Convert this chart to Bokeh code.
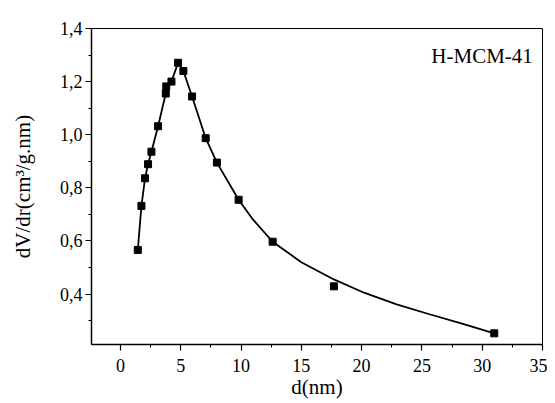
from bokeh.plotting import figure
from bokeh.models import FixedTicker, Range1d, Label
from bokeh.embed import file_html
from bokeh.resources import INLINE

# Measured points (pore diameter d in nm, dV/dr)
d_pts = [1.44, 1.74, 2.04, 2.29, 2.57, 3.12, 3.76, 3.80, 4.23, 4.78, 5.22, 5.94,
         7.07, 8.00, 9.80, 12.62, 17.70, 31.00]
v_pts = [0.566, 0.732, 0.836, 0.889, 0.936, 1.032, 1.155, 1.182, 1.200, 1.271,
         1.240, 1.144, 0.987, 0.895, 0.755, 0.597, 0.429, 0.252]

# Fitted curve
curve_d = [1.44, 1.74, 2.04, 2.29, 2.57, 3.12, 3.76, 3.80, 4.23, 4.78, 5.22, 5.94,
           7.07, 8.00, 9.80, 11.0, 12.62, 15.0, 17.7, 20.2, 22.9, 25.7, 28.4, 31.0]
curve_v = [0.566, 0.732, 0.836, 0.889, 0.936, 1.032, 1.155, 1.182, 1.200, 1.271,
           1.240, 1.144, 0.987, 0.895, 0.755, 0.680, 0.597, 0.520, 0.455, 0.405,
           0.361, 0.323, 0.288, 0.252]

x_ticks = [0, 5, 10, 15, 20, 25, 30, 35]
x_minor = [2.5, 7.5, 12.5, 17.5, 22.5, 27.5, 32.5]
y_ticks = [0.4, 0.6, 0.8, 1.0, 1.2, 1.4]
y_tick_labels = ["0,4", "0,6", "0,8", "1,0", "1,2", "1,4"]
y_minor = [0.3, 0.5, 0.7, 0.9, 1.1, 1.3]

FONT = "Liberation Serif"

p = figure(width=547, height=403, output_backend="svg", toolbar_location=None,
           x_range=Range1d(-2.4, 35), y_range=Range1d(0.21, 1.4),
           min_border_left=91, min_border_top=28, min_border_right=5,
           min_border_bottom=59)
p.background_fill_color = "white"
p.border_fill_color = "white"
p.grid.visible = False
p.outline_line_color = "black"
p.outline_line_width = 1

p.line(curve_d, curve_v, line_color="black", line_width=1.8)
p.scatter(d_pts, v_pts, marker="square", size=7, fill_color="black",
          line_color="black")

xa = p.xaxis[0]
xa.ticker = FixedTicker(ticks=x_ticks, minor_ticks=x_minor)
xa.axis_label = "d(nm)"
ya = p.yaxis[0]
ya.ticker = FixedTicker(ticks=y_ticks, minor_ticks=y_minor)
ya.major_label_overrides = {t: l for t, l in zip(y_ticks, y_tick_labels)}
ya.axis_label = "dV/dr(cm\u00b3/g.nm)"

for ax in (xa, ya):
    ax.axis_line_color = "black"
    ax.axis_line_width = 1.5
    ax.major_tick_line_color = "black"
    ax.minor_tick_line_color = "black"
    ax.major_tick_line_width = 1.2
    ax.minor_tick_line_width = 1
    ax.major_tick_in = 0
    ax.major_tick_out = 6
    ax.minor_tick_in = 0
    ax.minor_tick_out = 3
    ax.major_label_text_font = FONT
    ax.major_label_text_font_size = "18px"
    ax.major_label_text_color = "black"
    ax.axis_label_text_font = FONT
    ax.axis_label_text_font_size = "21px"
    ax.axis_label_text_font_style = "normal"
    ax.axis_label_text_color = "black"

xa.major_label_standoff = 8
xa.axis_label_standoff = 0
ya.major_label_standoff = 3
ya.axis_label_standoff = 22

p.add_layout(Label(x=34.2, y=1.295, text="H-MCM-41", text_align="right",
                   text_baseline="alphabetic", text_font=FONT,
                   text_font_size="21px", text_color="black"))

open("out.html", "w").write(file_html(p, INLINE))
